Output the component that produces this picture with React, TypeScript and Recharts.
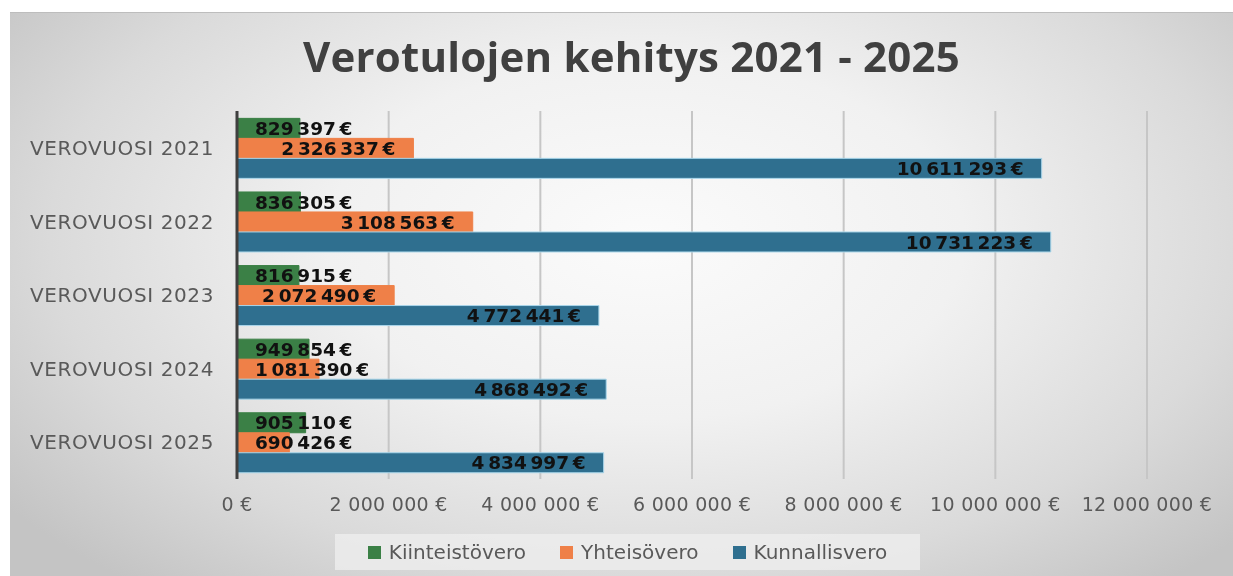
import React from 'react';
import { BarChart, Bar, XAxis, YAxis, CartesianGrid, LabelList } from 'recharts';

const years = ['VEROVUOSI 2021', 'VEROVUOSI 2022', 'VEROVUOSI 2023', 'VEROVUOSI 2024', 'VEROVUOSI 2025'];
const kiinteistovero = [829397, 836305, 816915, 949854, 905110];
const yhteisovero = [2326337, 3108563, 2072490, 1081390, 690426];
const kunnallisvero = [10611293, 10731223, 4772441, 4868492, 4834997];
const xTicks = [0, 2000000, 4000000, 6000000, 8000000, 10000000, 12000000];

const series = [
  { key: 'kiinteisto', name: 'Kiinteistövero', color: '#3b8046', stroke: '#3b8046' },
  { key: 'yhteiso', name: 'Yhteisövero', color: '#ef8048', stroke: '#ef8048' },
  { key: 'kunnallis', name: 'Kunnallisvero', color: '#2f6f8f', stroke: '#a9d6ea' },
];

const data = years.map((year, i) => ({
  year,
  kiinteisto: kiinteistovero[i],
  yhteiso: yhteisovero[i],
  kunnallis: kunnallisvero[i],
}));

// finnish style: space as thousands separator
const fmt = (v: number, sep = ' ') => String(Math.round(v)).replace(/\B(?=(\d{3})+(?!\d))/g, sep) + sep + '€';

const font = '"DejaVu Sans", sans-serif';

const BarLabel = (props: any) => {
  const { x, y, width, height, value } = props;
  const text = fmt(value, '\u2009');
  const digits = text.replace(/\D/g, '').length;
  const textW = (digits + 1) * 13 + 12;
  const fits = width > textW + 30;
  return (
    <text
      x={fits ? x + width - 18 : x + 18}
      y={y + height / 2}
      dy="0.36em"
      textAnchor={fits ? 'end' : 'start'}
      fontFamily={font}
      fontWeight="bold"
      fontSize={18.5}
      fill="#111"
    >
      {text}
    </text>
  );
};

const YTick = (props: any) => {
  const { x, y, payload } = props;
  return (
    <text x={x - 15} y={y} dy="0.36em" textAnchor="end" fontFamily={font} fontSize={20} letterSpacing={0.6} fill="#595959">
      {payload.value}
    </text>
  );
};

const XTick = (props: any) => {
  const { x, y, payload } = props;
  return (
    <text x={x} y={y + 17} dy="0.36em" textAnchor="middle" fontFamily={font} fontSize={19} fill="#595959" letterSpacing={0.3}>
      {fmt(payload.value)}
    </text>
  );
};

const LegendBox = () => (
  <div
    style={{
      position: 'absolute',
      left: 325,
      top: 521,
      width: 585,
      height: 36,
      display: 'flex',
      alignItems: 'center',
      justifyContent: 'center',
      gap: 34,
      background: 'rgba(238,238,238,0.8)',
      fontFamily: font,
      fontSize: 20,
      color: '#595959',
    }}
  >
    {series.map((s) => (
      <div key={s.key} style={{ display: 'flex', alignItems: 'center' }}>
        <span style={{ width: 13, height: 13, background: s.color, marginRight: 8, display: 'inline-block' }} />
        {s.name}
      </div>
    ))}
  </div>
);

export default function App() {
  return (
    <div
      style={{
        position: 'fixed',
        left: 10,
        top: 12,
        width: 1223,
        height: 564,
        background: 'radial-gradient(ellipse 65% 80% at 52% 40%, #fbfbfb 0%, #f1f1f1 40%, #dadada 75%, #c4c4c4 100%)',
        borderTop: '1px solid #bdbdbd',
        fontFamily: font,
      }}
    >
      <div
        style={{
          position: 'absolute',
          top: 14,
          left: 10,
          width: 1223,
          textAlign: 'center',
          fontFamily: '"Open Sans", sans-serif',
          fontWeight: 700,
          fontSize: 42,
          color: '#404040',
          letterSpacing: 0.2,
        }}
      >
        Verotulojen kehitys 2021 - 2025
      </div>
      <BarChart
        width={1223}
        height={564}
        data={data}
        layout="vertical"
        margin={{ top: 98, right: 86, left: 0, bottom: 58 }}
        barCategoryGap="10%"
        barGap={0}
      >
        <CartesianGrid horizontal={false} stroke="#c6c6c6" strokeWidth={2} />
        <XAxis
          type="number"
          domain={[0, 12000000]}
          ticks={xTicks}
          axisLine={false}
          tickLine={false}
          height={40}
          tick={<XTick />}
          interval={0}
        />
        <YAxis
          type="category"
          dataKey="year"
          width={227}
          axisLine={{ stroke: '#3f3f3f', strokeWidth: 3 }}
          tickLine={false}
          tick={<YTick />}
        />
        {series.map((s) => (
          <Bar
            key={s.key}
            dataKey={s.key}
            name={s.name}
            fill={s.color}
            stroke={s.stroke}
            strokeWidth={1}
            isAnimationActive={false}
          >
            <LabelList dataKey={s.key} content={<BarLabel />} />
          </Bar>
        ))}
      </BarChart>
      <LegendBox />
    </div>
  );
}
